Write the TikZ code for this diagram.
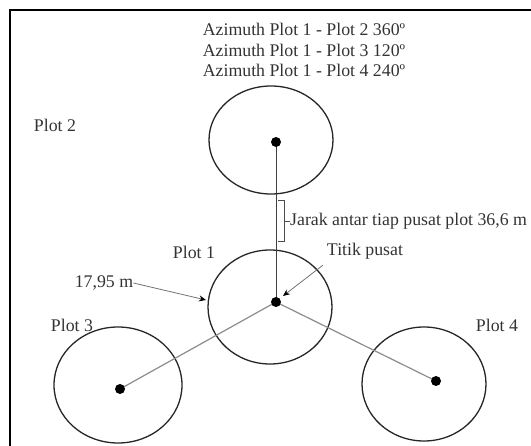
\documentclass[tikz,border=0pt]{standalone}
\usepackage{fontspec}
\setmainfont{Liberation Serif}
\usetikzlibrary{arrows.meta}
\tikzset{
  plot/.style={line width=1.3pt,black!85},
  pusat/.style={fill=black},
  lbl/.style={text=black!80,inner sep=0pt},
}
\begin{document}
\begin{tikzpicture}[x=1pt,y=-1pt,font=\fontsize{17.8}{20.5}\selectfont]
        \useasboundingbox (0,0) rectangle (531,446);
        \clip (0,0) rectangle (531,446);
        \draw[line width=1.2pt] (10,470) -- (10,10) -- (560,10);
        % titik pusat tiap plot
        \coordinate (c1) at (276,302);
        \coordinate (c2) at (276,142);
        \coordinate (c3) at (120,389);
        \coordinate (c4) at (436,381);
        % lingkaran plot
        \draw[plot] (271,140) ellipse [x radius=62, y radius=54];
        \draw[plot] (270,307) ellipse [x radius=62, y radius=57];
        \draw[plot] (118,385) ellipse [x radius=64, y radius=58];
        \draw[plot] (424,384) ellipse [x radius=62, y radius=57];
        % garis antar pusat
        \draw[black!75,line width=0.9pt] (c1) -- (c2);
        \draw[black!45,line width=1.2pt] (c1) -- (c3);
        \draw[black!45,line width=1.2pt] (c1) -- (c4);
        \foreach \c in {c1,c2,c3,c4}
            \fill[pusat] (\c) circle[radius=5];
        % label
        \node[lbl,align=center] (az) at (304,50) {Azimuth Plot 1 - Plot 2 360º\\Azimuth Plot 1 - Plot 3 120º\\Azimuth Plot 1 - Plot 4 240º};
        \node[lbl] (p2) at (55,125) {Plot 2};
        \node[lbl] (p1) at (194,252) {Plot 1};
        \node[lbl] (p3) at (72,325) {Plot 3};
        \node[lbl] (p4) at (497,325) {Plot 4};
        \node[lbl] (r) at (104,283) {17,95 m};
        \node[lbl] (tp) at (365,251) {Titik pusat};
        \node[lbl,anchor=west] (jarak) at (290,221) {Jarak antar tiap pusat plot 36,6 m};
        % kurung jarak
        \draw[black!70,line width=0.8pt] (278,200) -- (284,200) -- (284,241) -- (278,241);
        \draw[black!70,line width=0.8pt] (284,221) -- (jarak.west);
        % panah
        \coordinate (tepi) at (206,300);
        \coordinate (tengah) at (283,296);
        \draw[black!55,line width=0.8pt,-{Stealth[black,length=7pt,width=6pt]}] (r.east) -- (tepi);
        \draw[black!55,line width=0.8pt,-{Stealth[black,length=7pt,width=6pt]}] (tp.south west) ++(-4,6) -- (tengah);
\end{tikzpicture}
\end{document}
